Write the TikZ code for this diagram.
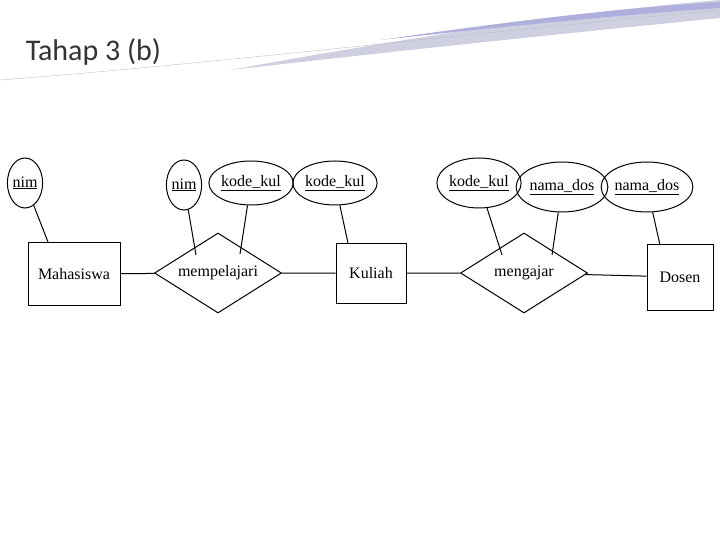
\documentclass[tikz,border=0pt]{standalone}
\usepackage{fontspec}
\setmainfont{Liberation Serif}
\newfontfamily\titlefont{Carlito}
\usetikzlibrary{shapes.geometric}
\tikzstyle{entity}=[rectangle, draw, line width=1pt, inner sep=0pt]
\tikzstyle{relation}=[diamond, draw, line width=1pt, inner sep=0pt, minimum width=127pt, minimum height=80pt]
\tikzstyle{attr}=[ellipse, draw, line width=1pt, inner sep=0pt]
\newcommand{\attr}{\node[attr]}
\begin{document}
\begin{tikzpicture}[x=1pt, y=-1pt, font=\fontsize{16}{18}\selectfont
    ,every path/.style={line width=1pt}
]
\useasboundingbox (0,0) rectangle (720,540);
% slide decoration
\fill[blue!25!gray!30] (230,70) .. controls (450,30) and (600,10) .. (720,0) -- (720,18) .. controls (600,30) and (450,45) .. (230,70);
\fill[blue!40!gray!45] (380,40) .. controls (520,20) and (620,8) .. (720,2) -- (720,8) .. controls (620,15) and (520,25) .. (380,40);
\draw[gray!50, line width=0.4pt] (0,80) .. controls (200,65) and (500,30) .. (720,10);
\node[anchor=west, font=\titlefont\fontsize{30}{32}\selectfont, text=black!80] (title) at (22,52) {Tahap 3 (b)};
% entities
\node[entity, minimum width=92pt, minimum height=63pt] (mhs) at (74,274) {Mahasiswa};
\node[entity, minimum width=70pt, minimum height=60pt] (kul) at (371,273) {Kuliah};
\node[entity, minimum width=66pt, minimum height=66pt] (dsn) at (680,277) {Dosen};
% relations
\node[relation] (mpl) at (218,273) {};
\node (mpltxt) at (218,273) {mempelajari};
\node[relation] (mgj) at (524,273) {};
\node (mgjtxt) at (524,273) {mengajar};
% attributes
\attr[minimum width=32pt, minimum height=50pt] (nim1) at (25,183) {\underline{nim}};
\attr[minimum width=35pt, minimum height=50pt] (nim2) at (184,185) {\underline{nim}};
\attr[minimum width=64pt, minimum height=44pt] (kk1) at (251,183) {\underline{kode\_kul}};
\attr[minimum width=64pt, minimum height=44pt] (kk2) at (335,183) {\underline{kode\_kul}};
\attr[minimum width=66pt, minimum height=50pt] (kk3) at (479,183) {\underline{kode\_kul}};
\attr[minimum width=76pt, minimum height=50pt] (nd1) at (562,187) {\underline{nama\_dos}};
\attr[minimum width=76pt, minimum height=50pt] (nd2) at (647,187) {\underline{nama\_dos}};
% connector ends
\coordinate (p1) at (48,242);
\coordinate (p2) at (196,255);
\coordinate (p3) at (240,254);
\coordinate (p4) at (348,243);
\coordinate (p5) at (502,255);
\coordinate (p6) at (552,255);
\coordinate (p7) at (660,245);
% connectors
\draw (mhs) -- (mpl) -- (kul) -- (mgj) -- (dsn);
\draw (nim1) -- (p1);
\draw (nim2) -- (p2);
\draw (kk1) -- (p3);
\draw (kk2) -- (p4);
\draw (kk3) -- (p5);
\draw (nd1) -- (p6);
\draw (nd2) -- (p7);
\end{tikzpicture}
\end{document}
